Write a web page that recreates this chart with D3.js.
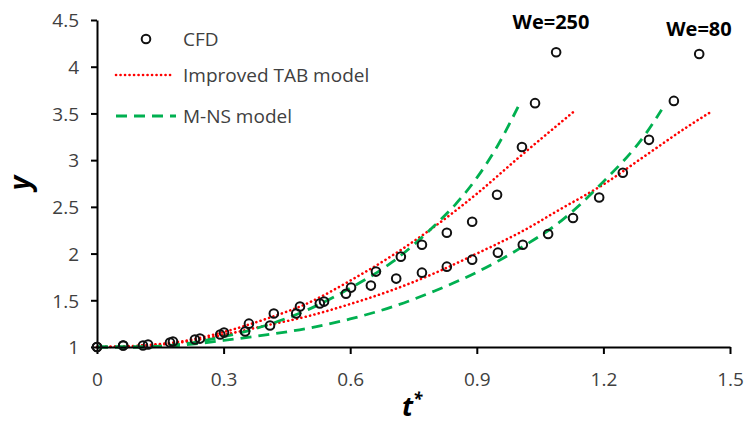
<!DOCTYPE html>
<html>
<head>
<meta charset="utf-8">
<script src="https://cdn.jsdelivr.net/npm/d3@7"></script>
<style>
  body { margin: 0; background: #fff; }
  text { font-family: "Open Sans", Lato, sans-serif; }
</style>
</head>
<body>
<div id="chart"></div>
<script>
// CFD points, We=250
var cfd250T = [0, 0.062, 0.121, 0.180, 0.244, 0.301, 0.360, 0.419, 0.481, 0.538, 0.602, 0.661, 0.720, 0.770, 0.829, 0.889, 0.948, 1.007, 1.038, 1.088];
var cfd250Y = [1.0, 1.016, 1.027, 1.059, 1.09, 1.155, 1.25, 1.358, 1.433, 1.486, 1.636, 1.807, 1.967, 2.095, 2.223, 2.34, 2.63, 3.14, 3.61, 4.155];

// CFD points, We=80
var cfd80T = [0, 0.062, 0.109, 0.173, 0.232, 0.292, 0.351, 0.41, 0.472, 0.528, 0.59, 0.649, 0.709, 0.770, 0.829, 0.889, 0.950, 1.009, 1.069, 1.128, 1.19, 1.246, 1.308, 1.367, 1.427];
var cfd80Y = [1.0, 1.016, 1.016, 1.048, 1.08, 1.134, 1.166, 1.23, 1.358, 1.465, 1.57, 1.657, 1.732, 1.796, 1.86, 1.935, 2.01, 2.095, 2.21, 2.38, 2.6, 2.865, 3.217, 3.634, 4.136];

// Improved TAB model
var tab250T = [0, 0.1, 0.2, 0.3, 0.4, 0.5, 0.6, 0.7, 0.8, 0.9, 1.0, 1.066, 1.13];
var tab250Y = [1.0, 1.015, 1.06, 1.16, 1.30, 1.47, 1.71, 1.98, 2.29, 2.64, 3.03, 3.28, 3.52];
var tab80T = [0, 0.1, 0.2, 0.3, 0.4, 0.5, 0.6, 0.7, 0.8, 0.9, 1.0, 1.1, 1.2, 1.3, 1.4, 1.456];
var tab80Y = [1.0, 1.01, 1.05, 1.13, 1.23, 1.33, 1.46, 1.61, 1.79, 2.0, 2.22, 2.48, 2.74, 3.05, 3.36, 3.52];

// M-NS model
var mns250T = [0, 0.1, 0.2, 0.3, 0.4, 0.5, 0.6, 0.7, 0.8, 0.85, 0.9, 0.95, 1.0];
var mns250Y = [1.0, 1.0, 1.03, 1.11, 1.23, 1.40, 1.63, 1.91, 2.3, 2.53, 2.81, 3.16, 3.59];
var mns80T = [0, 0.1, 0.2, 0.3, 0.4, 0.5, 0.6, 0.7, 0.8, 0.9, 1.0, 1.1, 1.2, 1.3, 1.338];
var mns80Y = [1.0, 1.0, 1.02, 1.07, 1.13, 1.2, 1.3, 1.43, 1.6, 1.8, 2.05, 2.35, 2.77, 3.28, 3.54];

var xTicks = [0, 0.3, 0.6, 0.9, 1.2, 1.5];
var yTicks = [1, 1.5, 2, 2.5, 3, 3.5, 4, 4.5];

var W = 744, H = 425;
var margin = {top: 20, right: 14, bottom: 78, left: 97};

var svg = d3.select("#chart").append("svg")
  .attr("width", W)
  .attr("height", H);

var x = d3.scaleLinear().domain([0, 1.5]).range([margin.left, W - margin.right]);
var y = d3.scaleLinear().domain([1, 4.5]).range([H - margin.bottom, margin.top]);

function zip(a, b) { return a.map(function(v, i) { return [v, b[i]]; }); }

var line = d3.line()
  .x(function(d) { return x(d[0]); })
  .y(function(d) { return y(d[1]); })
  .curve(d3.curveMonotoneX);

var red = "#ff0000", green = "#00b050", txt = "#404040";

// model curves
[tab250T, tab80T].forEach(function(t, i) {
  var v = i === 0 ? tab250Y : tab80Y;
  svg.append("path")
    .attr("d", line(zip(t, v)))
    .attr("fill", "none")
    .attr("stroke", red)
    .attr("stroke-width", 2.6)
    .attr("stroke-linecap", "round")
    .attr("stroke-dasharray", "0.1 4.4");
});

[mns250T, mns80T].forEach(function(t, i) {
  var v = i === 0 ? mns250Y : mns80Y;
  svg.append("path")
    .attr("d", line(zip(t, v)))
    .attr("fill", "none")
    .attr("stroke", green)
    .attr("stroke-width", 2.8)
    .attr("stroke-dasharray", "11 7");
});

// axes
var xAxis = svg.append("g")
  .attr("transform", "translate(0," + y(1) + ")")
  .call(d3.axisBottom(x).tickValues(xTicks).tickSize(7).tickSizeOuter(0).tickFormat(d3.format("")));
var yAxis = svg.append("g")
  .attr("transform", "translate(" + x(0) + ",0)")
  .call(d3.axisLeft(y).tickValues(yTicks).tickSize(6).tickSizeOuter(0).tickFormat(d3.format("")));

[xAxis, yAxis].forEach(function(g) {
  g.select(".domain").attr("stroke", "#000").attr("stroke-width", 2);
  g.selectAll(".tick line").attr("stroke", "#000").attr("stroke-width", 2);
  g.selectAll(".tick text").attr("fill", txt).style("font-size", "19px")
    .style("font-family", "'Open Sans', sans-serif");
});
xAxis.selectAll(".tick text").attr("dy", "1.55em");
yAxis.selectAll(".tick text").attr("x", -18).attr("dy", "0.36em");

// CFD circles
var cfdPts = zip(cfd250T, cfd250Y).concat(zip(cfd80T, cfd80Y));
svg.append("g").selectAll("circle")
  .data(cfdPts)
  .join("circle")
  .attr("cx", function(d) { return x(d[0]); })
  .attr("cy", function(d) { return y(d[1]); })
  .attr("r", 4.3)
  .attr("fill", "none")
  .attr("stroke", "#111")
  .attr("stroke-width", 2);

// axis titles
svg.append("text")
  .attr("transform", "translate(30,183) rotate(-90)")
  .attr("text-anchor", "middle")
  .style("font-size", "28px").style("font-weight", "bold").style("font-style", "italic")
  .text("y");

var tt = svg.append("text")
  .attr("x", 402).attr("y", 416)
  .style("font-size", "27px").style("font-weight", "bold").style("font-style", "italic");
tt.append("tspan").text("t");
tt.append("tspan").attr("dy", -11).style("font-size", "17px").text("*");

// We labels
svg.append("text").attr("x", 551).attr("y", 29).attr("text-anchor", "middle")
  .style("font-size", "20px").style("font-weight", "bold").text("We=250");
svg.append("text").attr("x", 699).attr("y", 36).attr("text-anchor", "middle")
  .style("font-size", "20px").style("font-weight", "bold").text("We=80");

// legend
var lg = svg.append("g");
lg.append("circle").attr("cx", 146).attr("cy", 39).attr("r", 4.3)
  .attr("fill", "none").attr("stroke", "#111").attr("stroke-width", 2);
lg.append("line").attr("x1", 116).attr("x2", 174).attr("y1", 75).attr("y2", 75)
  .attr("stroke", red).attr("stroke-width", 2.6).attr("stroke-linecap", "round")
  .attr("stroke-dasharray", "0.1 4.4");
lg.append("line").attr("x1", 116).attr("x2", 176).attr("y1", 116).attr("y2", 116)
  .attr("stroke", green).attr("stroke-width", 2.8).attr("stroke-dasharray", "11 7");
var legendText = ["CFD", "Improved TAB model", "M-NS model"];
var legendY = [39, 75, 116];
legendText.forEach(function(s, i) {
  lg.append("text").attr("x", 183).attr("y", legendY[i]).attr("dy", "0.36em")
    .attr("fill", txt).style("font-size", "19px").text(s);
});
</script>
</body>
</html>
